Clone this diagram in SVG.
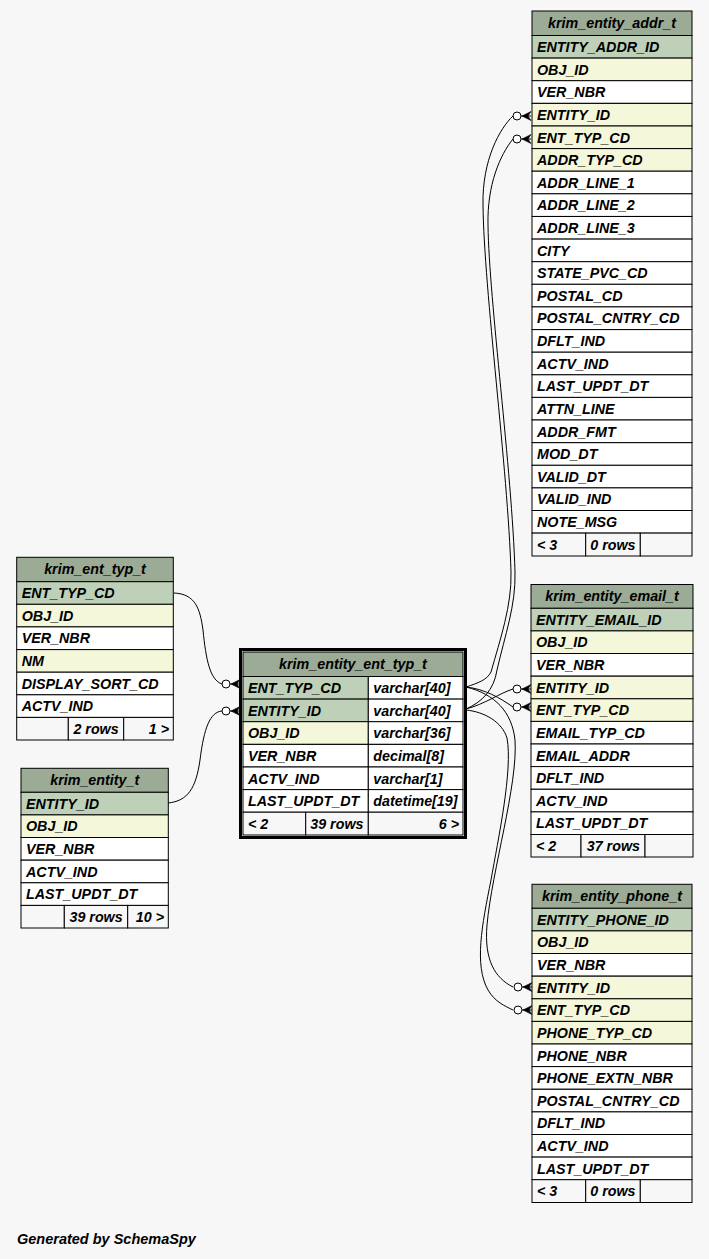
<svg xmlns="http://www.w3.org/2000/svg" width="709" height="1259" viewBox="0 0 709 1259">
<style>
.hd{fill:#9bab96;stroke:#000;stroke-width:1}
.pk{fill:#bed1b8;stroke:#000;stroke-width:1}
.fk{fill:#f4f7da;stroke:#000;stroke-width:1}
.wh{fill:#ffffff;stroke:#000;stroke-width:1}
.ft{fill:#f7f7f7;stroke:#000;stroke-width:1}
text{font-family:"Liberation Sans",Arial,Helvetica,sans-serif;font-style:italic;font-weight:bold;font-size:14.3px;fill:#000}
.c{text-anchor:middle}
.r{text-anchor:end}
.edge{fill:none;stroke:#000;stroke-width:1}
</style>
<defs>
<g id="crow">
<circle cx="0" cy="0" r="4" fill="#fff" stroke="#000" stroke-width="1"/>
<path d="M4,0H14" stroke="#000" stroke-width="1"/>
<path d="M14,-4.5L5,0L14,4.5L11,0Z" fill="#000" stroke="#000" stroke-width="0.6"/>
</g>
</defs>
<rect x="0" y="0" width="709" height="1259" fill="#f7f7f7"/>

<g id="connectors">
<path class="edge" d="M466,687 C478,683 487,680 491,672 C500,640 512,605 511,572 C508,470 484,290 483,205 C482,160 500,128 513,116"/>
<path class="edge" d="M466,709 C482,702 494,690 497,670 C505,635 516,605 515,572 C512,470 489,300 488,225 C487,185 500,155 513,139"/>
<path class="edge" d="M466,687 C485,689 500,698 513,707"/>
<path class="edge" d="M466,709 C485,704 500,693 513,689"/>
<path class="edge" d="M466,687 C495,694 512,712 515,740 C518,785 492,870 487,925 C484,960 495,978 513,987"/>
<path class="edge" d="M466,710 C485,712 502,722 507,738 C513,770 498,840 491,880 C482,925 474,965 488,990 C495,1002 505,1006 513,1010"/>
<path class="edge" d="M174,593 C195,594 200,608 203,630 C206,660 210,680 222,684"/>
<path class="edge" d="M168,803 C188,801 196,788 200,760 C204,728 210,712 222,711"/>
<use href="#crow" x="517" y="116"/>
<use href="#crow" x="517" y="139"/>
<use href="#crow" x="517" y="689"/>
<use href="#crow" x="517" y="707"/>
<use href="#crow" x="518" y="987"/>
<use href="#crow" x="518" y="1010"/>
<use href="#crow" x="226" y="684"/>
<use href="#crow" x="226" y="711"/>
</g>

<g id="krim_entity_addr_t">
<rect class="hd" x="532" y="11" width="160" height="24.5"/>
<text class="c" x="612" y="27.5">krim_entity_addr_t</text>
<rect class="pk" x="532" y="35.5" width="160" height="22.62"/><text x="537" y="52">ENTITY_ADDR_ID</text>
<rect class="fk" x="532" y="58.1" width="160" height="22.62"/><text x="537" y="74.6">OBJ_ID</text>
<rect class="wh" x="532" y="80.7" width="160" height="22.62"/><text x="537" y="97.2">VER_NBR</text>
<rect class="fk" x="532" y="103.4" width="160" height="22.62"/><text x="537" y="119.9">ENTITY_ID</text>
<rect class="fk" x="532" y="126" width="160" height="22.62"/><text x="537" y="142.5">ENT_TYP_CD</text>
<rect class="fk" x="532" y="148.6" width="160" height="22.62"/><text x="537" y="165.1">ADDR_TYP_CD</text>
<rect class="wh" x="532" y="171.2" width="160" height="22.62"/><text x="537" y="187.7">ADDR_LINE_1</text>
<rect class="wh" x="532" y="193.8" width="160" height="22.62"/><text x="537" y="210.3">ADDR_LINE_2</text>
<rect class="wh" x="532" y="216.5" width="160" height="22.62"/><text x="537" y="233">ADDR_LINE_3</text>
<rect class="wh" x="532" y="239.1" width="160" height="22.62"/><text x="537" y="255.6">CITY</text>
<rect class="wh" x="532" y="261.7" width="160" height="22.62"/><text x="537" y="278.2">STATE_PVC_CD</text>
<rect class="wh" x="532" y="284.3" width="160" height="22.62"/><text x="537" y="300.8">POSTAL_CD</text>
<rect class="wh" x="532" y="306.9" width="160" height="22.62"/><text x="537" y="323.4">POSTAL_CNTRY_CD</text>
<rect class="wh" x="532" y="329.6" width="160" height="22.62"/><text x="537" y="346.1">DFLT_IND</text>
<rect class="wh" x="532" y="352.2" width="160" height="22.62"/><text x="537" y="368.7">ACTV_IND</text>
<rect class="wh" x="532" y="374.8" width="160" height="22.62"/><text x="537" y="391.3">LAST_UPDT_DT</text>
<rect class="wh" x="532" y="397.4" width="160" height="22.62"/><text x="537" y="413.9">ATTN_LINE</text>
<rect class="wh" x="532" y="420" width="160" height="22.62"/><text x="537" y="436.5">ADDR_FMT</text>
<rect class="wh" x="532" y="442.7" width="160" height="22.62"/><text x="537" y="459.2">MOD_DT</text>
<rect class="wh" x="532" y="465.3" width="160" height="22.62"/><text x="537" y="481.8">VALID_DT</text>
<rect class="wh" x="532" y="487.9" width="160" height="22.62"/><text x="537" y="504.4">VALID_IND</text>
<rect class="wh" x="532" y="510.5" width="160" height="22.62"/><text x="537" y="527">NOTE_MSG</text>
<rect class="ft" x="532" y="533.1" width="53.7" height="22.9"/><text x="537" y="549.6">&lt; 3</text>
<rect class="ft" x="585.7" y="533.1" width="54.6" height="22.9"/><text class="r" x="635.5" y="549.6">0 rows</text>
<rect class="ft" x="640.3" y="533.1" width="51.7" height="22.9"/>
</g>

<g id="krim_entity_email_t">
<rect class="hd" x="531" y="584.5" width="162" height="23.8"/>
<text class="c" x="612" y="600.5">krim_entity_email_t</text>
<rect class="pk" x="531" y="608.3" width="162" height="22.62"/><text x="536" y="624.8">ENTITY_EMAIL_ID</text>
<rect class="fk" x="531" y="630.9" width="162" height="22.62"/><text x="536" y="647.4">OBJ_ID</text>
<rect class="wh" x="531" y="653.5" width="162" height="22.62"/><text x="536" y="670">VER_NBR</text>
<rect class="fk" x="531" y="676.2" width="162" height="22.62"/><text x="536" y="692.7">ENTITY_ID</text>
<rect class="fk" x="531" y="698.8" width="162" height="22.62"/><text x="536" y="715.3">ENT_TYP_CD</text>
<rect class="wh" x="531" y="721.4" width="162" height="22.62"/><text x="536" y="737.9">EMAIL_TYP_CD</text>
<rect class="wh" x="531" y="744" width="162" height="22.62"/><text x="536" y="760.5">EMAIL_ADDR</text>
<rect class="wh" x="531" y="766.6" width="162" height="22.62"/><text x="536" y="783.1">DFLT_IND</text>
<rect class="wh" x="531" y="789.3" width="162" height="22.62"/><text x="536" y="805.8">ACTV_IND</text>
<rect class="wh" x="531" y="811.9" width="162" height="22.62"/><text x="536" y="828.4">LAST_UPDT_DT</text>
<rect class="ft" x="531" y="834.5" width="50" height="22.5"/><text x="536" y="851">&lt; 2</text>
<rect class="ft" x="581" y="834.5" width="64" height="22.5"/><text class="r" x="640" y="851">37 rows</text>
<rect class="ft" x="645" y="834.5" width="48" height="22.5"/>
</g>

<g id="krim_entity_phone_t">
<rect class="hd" x="532" y="884.3" width="160" height="24"/>
<text class="c" x="612" y="900.5">krim_entity_phone_t</text>
<rect class="pk" x="532" y="908.3" width="160" height="22.62"/><text x="537" y="924.8">ENTITY_PHONE_ID</text>
<rect class="fk" x="532" y="930.9" width="160" height="22.62"/><text x="537" y="947.4">OBJ_ID</text>
<rect class="wh" x="532" y="953.5" width="160" height="22.62"/><text x="537" y="970">VER_NBR</text>
<rect class="fk" x="532" y="976.2" width="160" height="22.62"/><text x="537" y="992.7">ENTITY_ID</text>
<rect class="fk" x="532" y="998.8" width="160" height="22.62"/><text x="537" y="1015.3">ENT_TYP_CD</text>
<rect class="fk" x="532" y="1021.4" width="160" height="22.62"/><text x="537" y="1037.9">PHONE_TYP_CD</text>
<rect class="wh" x="532" y="1044" width="160" height="22.62"/><text x="537" y="1060.5">PHONE_NBR</text>
<rect class="wh" x="532" y="1066.6" width="160" height="22.62"/><text x="537" y="1083.1">PHONE_EXTN_NBR</text>
<rect class="wh" x="532" y="1089.3" width="160" height="22.62"/><text x="537" y="1105.8">POSTAL_CNTRY_CD</text>
<rect class="wh" x="532" y="1111.9" width="160" height="22.62"/><text x="537" y="1128.4">DFLT_IND</text>
<rect class="wh" x="532" y="1134.5" width="160" height="22.62"/><text x="537" y="1151">ACTV_IND</text>
<rect class="wh" x="532" y="1157.1" width="160" height="22.62"/><text x="537" y="1173.6">LAST_UPDT_DT</text>
<rect class="ft" x="532" y="1179.7" width="53.7" height="22.8"/><text x="537" y="1196.2">&lt; 3</text>
<rect class="ft" x="585.7" y="1179.7" width="54.6" height="22.8"/><text class="r" x="635.5" y="1196.2">0 rows</text>
<rect class="ft" x="640.3" y="1179.7" width="51.7" height="22.8"/>
</g>

<g id="krim_ent_typ_t">
<rect class="hd" x="16.7" y="557.3" width="156.6" height="24.4"/>
<text class="c" x="95" y="573.8">krim_ent_typ_t</text>
<rect class="pk" x="16.7" y="581.7" width="156.6" height="22.62"/><text x="21.7" y="598.2">ENT_TYP_CD</text>
<rect class="fk" x="16.7" y="604.3" width="156.6" height="22.62"/><text x="21.7" y="620.8">OBJ_ID</text>
<rect class="wh" x="16.7" y="626.9" width="156.6" height="22.62"/><text x="21.7" y="643.4">VER_NBR</text>
<rect class="fk" x="16.7" y="649.6" width="156.6" height="22.62"/><text x="21.7" y="666.1">NM</text>
<rect class="wh" x="16.7" y="672.2" width="156.6" height="22.62"/><text x="21.7" y="688.7">DISPLAY_SORT_CD</text>
<rect class="wh" x="16.7" y="694.8" width="156.6" height="22.62"/><text x="21.7" y="711.3">ACTV_IND</text>
<rect class="ft" x="16.7" y="717.4" width="51.6" height="22.6"/>
<rect class="ft" x="68.3" y="717.4" width="55.4" height="22.6"/><text class="r" x="118.7" y="733.9">2 rows</text>
<rect class="ft" x="123.7" y="717.4" width="49.6" height="22.6"/><text class="r" x="169" y="733.9">1 &gt;</text>
</g>

<g id="krim_entity_t">
<rect class="hd" x="21" y="768.3" width="147.3" height="24"/>
<text class="c" x="94.7" y="784.5">krim_entity_t</text>
<rect class="pk" x="21" y="792.3" width="147.3" height="22.62"/><text x="26" y="808.8">ENTITY_ID</text>
<rect class="fk" x="21" y="814.9" width="147.3" height="22.62"/><text x="26" y="831.4">OBJ_ID</text>
<rect class="wh" x="21" y="837.5" width="147.3" height="22.62"/><text x="26" y="854">VER_NBR</text>
<rect class="wh" x="21" y="860.2" width="147.3" height="22.62"/><text x="26" y="876.7">ACTV_IND</text>
<rect class="wh" x="21" y="882.8" width="147.3" height="22.62"/><text x="26" y="899.3">LAST_UPDT_DT</text>
<rect class="ft" x="21" y="905.4" width="43.3" height="22.6"/>
<rect class="ft" x="64.3" y="905.4" width="63.4" height="22.6"/><text class="r" x="122.7" y="921.9">39 rows</text>
<rect class="ft" x="127.7" y="905.4" width="40.6" height="22.6"/><text class="r" x="164" y="921.9">10 &gt;</text>
</g>

<g id="krim_entity_ent_typ_t">
<rect x="240.5" y="649.5" width="225" height="188" fill="#ffffff" stroke="#000" stroke-width="3"/>
<rect class="hd" x="243" y="652" width="220" height="24.5"/>
<text class="c" x="353" y="668.5">krim_entity_ent_typ_t</text>
<rect class="pk" x="243" y="676.5" width="125.3" height="22.62"/><text x="248" y="693">ENT_TYP_CD</text>
<rect class="wh" x="368.3" y="676.5" width="94.7" height="22.62"/><text x="373.3" y="693">varchar[40]</text>
<rect class="pk" x="243" y="699.1" width="125.3" height="22.62"/><text x="248" y="715.6">ENTITY_ID</text>
<rect class="wh" x="368.3" y="699.1" width="94.7" height="22.62"/><text x="373.3" y="715.6">varchar[40]</text>
<rect class="fk" x="243" y="721.7" width="125.3" height="22.62"/><text x="248" y="738.2">OBJ_ID</text>
<rect class="wh" x="368.3" y="721.7" width="94.7" height="22.62"/><text x="373.3" y="738.2">varchar[36]</text>
<rect class="wh" x="243" y="744.4" width="125.3" height="22.62"/><text x="248" y="760.9">VER_NBR</text>
<rect class="wh" x="368.3" y="744.4" width="94.7" height="22.62"/><text x="373.3" y="760.9">decimal[8]</text>
<rect class="wh" x="243" y="767" width="125.3" height="22.62"/><text x="248" y="783.5">ACTV_IND</text>
<rect class="wh" x="368.3" y="767" width="94.7" height="22.62"/><text x="373.3" y="783.5">varchar[1]</text>
<rect class="wh" x="243" y="789.6" width="125.3" height="22.62"/><text x="248" y="806.1">LAST_UPDT_DT</text>
<rect class="wh" x="368.3" y="789.6" width="94.7" height="22.62"/><text x="373.3" y="806.1">datetime[19]</text>
<rect class="ft" x="243" y="812.2" width="62.7" height="22.8"/><text x="248" y="828.7">&lt; 2</text>
<rect class="ft" x="305.7" y="812.2" width="62.6" height="22.8"/><text class="r" x="363.5" y="828.7">39 rows</text>
<rect class="ft" x="368.3" y="812.2" width="94.7" height="22.8"/><text class="r" x="459" y="828.7">6 &gt;</text>
</g>

<text x="17" y="1244" style="font-size:14.5px">Generated by SchemaSpy</text>
</svg>
